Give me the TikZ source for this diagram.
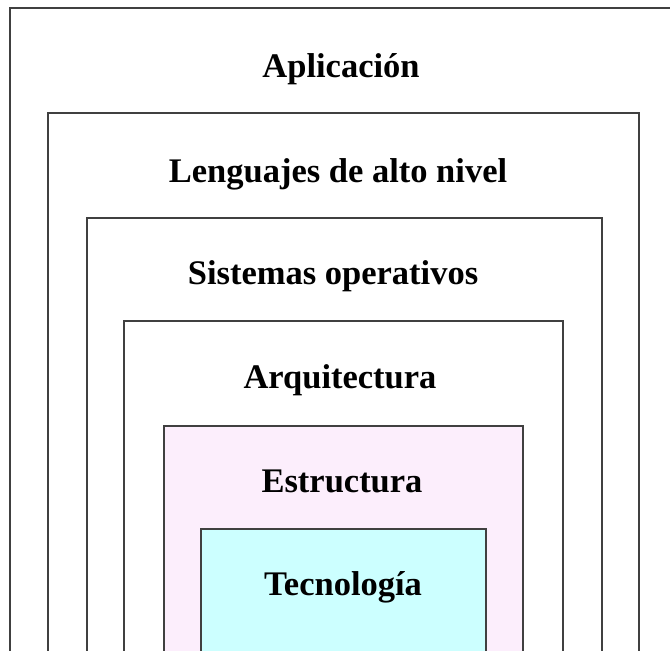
\documentclass[tikz,border=0pt]{standalone}
\usepackage{fontspec}
\setmainfont{Liberation Serif}
\definecolor{edge}{HTML}{404040}
\definecolor{pinkfill}{HTML}{FCEEFC}
\definecolor{cyanfill}{HTML}{CCFFFF}
\begin{document}
\begin{tikzpicture}[x=1pt,y=-1pt,
  layer/.style={draw=edge,line width=2.2pt},
  lbl/.style={anchor=base,font=\fontsize{34.5}{40}\selectfont\bfseries,inner sep=0pt}]
\useasboundingbox (0,0) rectangle (670,651);
\clip (0,0) rectangle (670,651);
\draw[layer,fill=white] (10,8) rectangle (700,700);
\draw[layer,fill=white] (48,113) rectangle (639,700);
\draw[layer,fill=white] (87,218) rectangle (602,700);
\draw[layer,fill=white] (124,321) rectangle (563,700);
\draw[layer,fill=pinkfill] (164,426) rectangle (523,700);
\draw[layer,fill=cyanfill] (201,529) rectangle (486,700);
\node[lbl] (app) at (341,77) {Aplicación};
\node[lbl] (len) at (338,182) {Lenguajes de alto nivel};
\node[lbl] (so) at (333,284) {Sistemas operativos};
\node[lbl] (arq) at (340,388) {Arquitectura};
\node[lbl] (est) at (342,492) {Estructura};
\node[lbl] (tec) at (343,595) {Tecnología};
\end{tikzpicture}
\end{document}
